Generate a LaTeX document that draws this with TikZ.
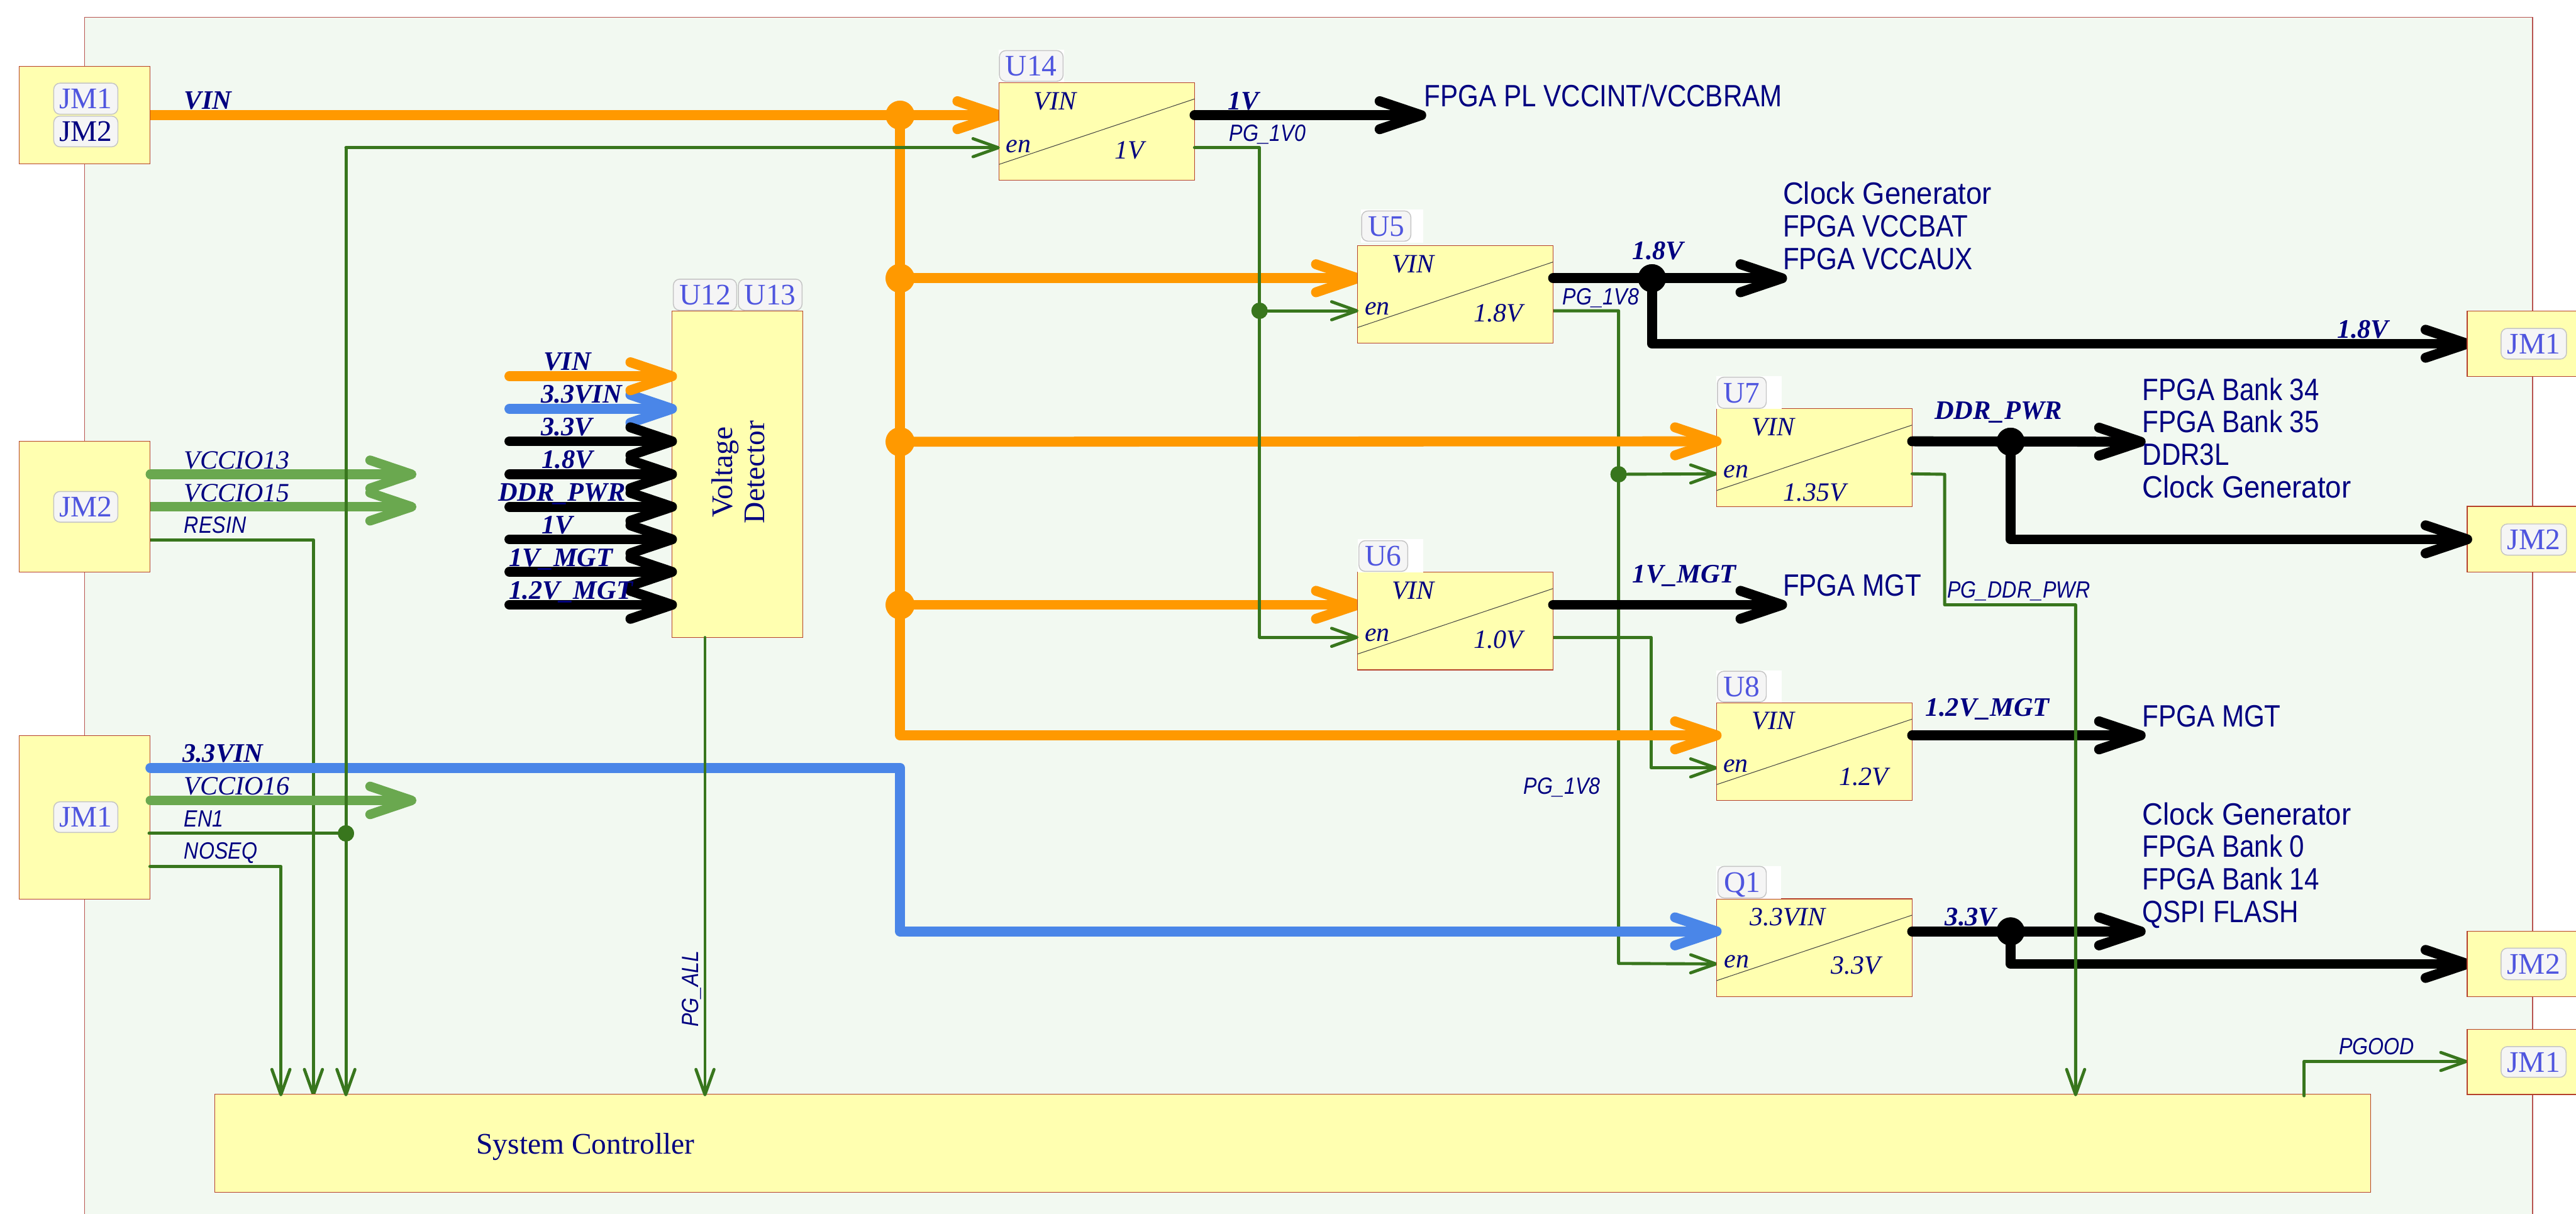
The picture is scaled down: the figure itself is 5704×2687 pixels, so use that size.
\documentclass[tikz,border=0pt]{standalone}
\usepackage{fontspec}
\usetikzlibrary{arrows.meta,calc}
\setmainfont{Liberation Serif}
\newfontfamily\snfont[FakeStretch=0.86]{Liberation Sans}
\newfontfamily\clkfont[FakeStretch=0.93]{Liberation Sans}
\definecolor{panelfill}{HTML}{F2F9F1}
\definecolor{panelline}{HTML}{B85450}
\definecolor{boxfill}{HTML}{FFFFB0}
\definecolor{boxline}{HTML}{B5402A}
\definecolor{tagfill}{HTML}{F5F5F5}
\definecolor{tagline}{HTML}{C4C4C4}
\definecolor{tagtext}{HTML}{4F55DF}
\definecolor{ink}{HTML}{000080}
\definecolor{wOrange}{HTML}{FF9900}
\definecolor{wBlue}{HTML}{4A86E8}
\definecolor{wLight}{HTML}{6AA84F}
\definecolor{wDark}{HTML}{38761D}
\tikzset{
  panel/.style={draw=panelline,fill=panelfill,line width=.02cm},
  blk/.style={draw=boxline,fill=boxfill,line width=.015cm,rectangle,inner sep=0pt,outer sep=0pt,anchor=north west},
  diag/.style={draw=black!75,line width=.014cm},
  tagbox/.style={draw=tagline,fill=tagfill,text=tagtext,rectangle,rounded corners=.14cm,line width=.02cm,inner sep=0pt,outer sep=0pt,anchor=north west,font=\fontsize{18.8}{20}\selectfont,text height=.44cm,text depth=0pt},
  patch/.style={fill=white,rectangle,inner sep=0pt,outer sep=0pt,anchor=north west},
  fat/.style={line width=.22cm,line cap=round,line join=round},
  fattip/.style={-{Straight Barb[round,length=.92cm,width=.62cm]}},
  owire/.style={fat,draw=wOrange},
  bwire/.style={fat,draw=wBlue},
  kwire/.style={fat,draw=black},
  lwire/.style={line width=.21cm,line cap=round,line join=round,draw=wLight},
  dwire/.style={line width=.068cm,line cap=round,line join=round,draw=wDark},
  dtip/.style={-{Straight Barb[round,length=.56cm,width=.40cm]}},
  under/.style={shorten >=-.11cm},
  dotO/.style={circle,inner sep=0pt,outer sep=0pt,minimum size=.64cm,fill=wOrange},
  dotK/.style={circle,inner sep=0pt,outer sep=0pt,minimum size=.62cm,fill=black},
  dotG/.style={circle,inner sep=0pt,outer sep=0pt,minimum size=.36cm,fill=wDark},
  lab/.style={anchor=base west,inner sep=0pt,outer sep=0pt,text=ink},
  ital/.style={lab,font=\fontsize{16.6}{18}\selectfont\itshape},
  bold/.style={lab,font=\fontsize{16.8}{18}\selectfont\bfseries\itshape},
  sig/.style={lab,font=\fontsize{14.8}{16}\selectfont\snfont\itshape},
  dest/.style={lab,font=\fontsize{19.4}{21}\selectfont\snfont},
  destw/.style={lab,font=\fontsize{19.4}{21}\selectfont\clkfont},
  big/.style={inner sep=0pt,outer sep=0pt,text=ink,font=\fontsize{18.8}{20}\selectfont},
}
\begin{document}
\begin{tikzpicture}[x=.01cm,y=-.01cm]
\clip (0,0) rectangle (5704,2687);
\fill[white] (0,0) rectangle (5704,2687);
\draw[panel] (187,38) rectangle (5608,2740);

% fixed points
\coordinate (vinS) at (332,255);
\coordinate (io13S) at (333,1050);
\coordinate (io15S) at (332,1122);
\coordinate (io13T) at (922,1050);
\coordinate (io15T) at (922,1122);
\coordinate (resS) at (332,1195);
\coordinate (v33S) at (333,1700);
\coordinate (v33C) at (1993,1700);
\coordinate (io16S) at (333,1772);
\coordinate (io16T) at (922,1772);
\coordinate (enS) at (330,1845);
\coordinate (enTop) at (766,327);
\coordinate (nosS) at (332,1918);
\coordinate (v33M) at (1993,2062);
\coordinate (scA) at (622,2427);
\coordinate (scB) at (694,2427);
\coordinate (scC) at (766,2427);
\coordinate (scD) at (1561,2427);
\coordinate (scE) at (4596,2427);
\coordinate (scF) at (5102,2426);
\coordinate (pgA) at (5102,2350);
\coordinate (pgT) at (5464,2350);
\coordinate (u14T) at (3158,255);
\coordinate (u5T) at (3957,616);
\coordinate (u6T) at (3957,1339);
\coordinate (u7T) at (4751,978);
\coordinate (u8T) at (4751,1628);
\coordinate (q1T) at (4751,2062);
\coordinate (jrA) at (5474,761);
\coordinate (jrB) at (5474,1194);
\coordinate (jrC) at (5474,2134);
\coordinate (g14) at (2789,327);
\coordinate (g14B) at (2789,1411);
\coordinate (g5) at (3584,688);
\coordinate (g5B) at (3584,2133);
\coordinate (g6) at (3656,1411);
\coordinate (g6B) at (3656,1700);
\coordinate (g7) at (4306,1050);
\coordinate (g7B) at (4306,1339);
\coordinate (g7C) at (4596,1339);

\path (2212,183) coordinate (U14p) (3006,544) coordinate (U5p) (3006,1267) coordinate (U6p)
      (3801,905) coordinate (U7p) (3801,1556) coordinate (U8p) (3801,1990) coordinate (Q1p);
\foreach \nm in {U14,U5,U6,U7,U8,Q1}{
  \coordinate (\nm-in) at ($(\nm p)+(0,72)$);
  \coordinate (\nm-en) at ($(\nm p)+(2,144)$);
  \coordinate (\nm-out) at ($(\nm p)+(433,72)$);
  \coordinate (\nm-pg) at ($(\nm p)+(433,144)$);
  \coordinate (\nm-dA) at ($(\nm p)+(0,181)$);
  \coordinate (\nm-dB) at ($(\nm p)+(433,36)$);
}
\node[dotO] (t1) at (1993,255) {};
\node[dotO] (t2) at (1993,616) {};
\node[dotO] (t3) at (1993,978) {};
\node[dotO] (t4) at (1993,1339) {};
\node[dotG] (jG1) at (2789,688) {};
\node[dotG] (jG2) at (3584,1050) {};
\node[dotG] (jG3) at (766,1845) {};
\node[dotK] (jK1) at (3658,616) {};
\node[dotK] (jK2) at (4452,978) {};
\node[dotK] (jK3) at (4452,2062) {};

% thin wires that run under the thick ones
\draw[dwire,dtip] (resS) -| (scB);
\draw[dwire,dtip] (U5-pg) -- (g5) -- (g5B) -- (Q1-en);
\draw[dwire,dtip] (jG2.center) -- (U7-en);
\draw[dwire,dtip] (U6-pg) -- (g6) -- (g6B) -- (U8-en);

% orange wires ending under a box
\draw[owire] (vinS) -- (t1.center);
\draw[owire,fattip,under] (t1.center) -- (U14-in);
\draw[owire,fattip,under] (t2.center) -- (U5-in);
\draw[owire,fattip,under] (t4.center) -- (U6-in);
\draw[lwire,line cap=butt,fattip] (io15S) -- (io15T);

% left connectors
\node[blk,minimum width=2.89cm,minimum height=2.16cm] (JMa) at (43,147) {};
\node[blk,minimum width=2.89cm,minimum height=2.89cm] (JMb) at (43,977) {};
\node[blk,minimum width=2.89cm,minimum height=3.61cm] (JMc) at (43,1629) {};

% regulators
\foreach \nm in {U14,U5,U6,U7,U8,Q1}{
  \node[blk,minimum width=4.33cm,minimum height=2.16cm] (\nm) at (\nm p) {};
  \draw[diag] (\nm-dA) -- (\nm-dB);
}
% detector and controller
\node[blk,minimum width=2.90cm,minimum height=7.23cm] (VD) at (1488,688) {};
\node[blk,minimum width=47.70cm,minimum height=2.17cm] (SC) at (476,2423) {};

% orange over boxes
\draw[owire] (t1.center) -- (t2.center) -- (t3.center) -- (t4.center);
\draw[owire,fattip,under] (t3.center) -- (U7-in);
\draw[owire,fattip,under] (t4.center) |- (U8-in);
\foreach \d in {t1,t2,t3,t4} \fill[wOrange] (\d) circle (32);

% green over orange
\draw[dwire,dtip] (U14-pg) -- (g14) -- (g14B) -- (U6-en);
\draw[dwire,dtip] (jG1.center) -- (U5-en);

% blue, black
\draw[bwire,fattip,under] (v33S) -- (v33C) -- (v33M) -- (Q1-in);
\draw[kwire,fattip] (U14-out) -- (u14T);
\draw[kwire,fattip] (U5-out) -- (u5T);
\draw[kwire,fattip] (jK1.center) |- (jrA);
\draw[kwire,fattip] (U6-out) -- (u6T);
\draw[kwire,fattip] (U7-out) -- (u7T);
\draw[kwire,fattip] (U8-out) -- (u8T);
\draw[kwire,fattip] (Q1-out) -- (q1T);
\draw[kwire,fattip] (jK3.center) |- (jrC);

% left light-green and thin wires
\draw[lwire,fattip] (io13S) -- (io13T);
\draw[lwire,fattip] (io16S) -- (io16T);
\draw[dwire,dtip] (nosS) -| (scA);
\draw[dwire] (enS) -- (jG3.center);
\draw[dwire,dtip] (enTop) -- (U14-en);
\draw[dwire,dtip] (enTop) -- (scC);
\draw[dwire,dtip] (VD.south -| scD) -- (scD);
\draw[dwire,dtip] (U7-pg) -- (g7) -- (g7B) -- (g7C) -- (scE);
\draw[dwire] (scF) -- (pgA);
\draw[dwire,dtip] (pgA) -- (pgT);

% re-stack dots
\foreach \d in {jG1,jG2,jG3} \fill[wDark] (\d) circle (18);
\foreach \d in {jK1,jK2,jK3} \fill[black] (\d) circle (31);

% right connectors
\node[blk,minimum width=2.60cm,minimum height=1.44cm] (JRa) at (5463,689) {};
\node[blk,minimum width=2.60cm,minimum height=1.46cm] (JRb) at (5463,1121) {};
\node[blk,minimum width=2.60cm,minimum height=1.44cm] (JRc) at (5463,2062) {};
\node[blk,minimum width=2.60cm,minimum height=1.44cm] (JRd) at (5463,2279) {};
\draw[kwire,fattip] (jK2.center) |- (jrB);

% detector inputs
\foreach \i/\y in {1/833,2/905,3/977,4/1050,5/1122,6/1194,7/1266,8/1339}{
  \coordinate (vdS\i) at (1128,\y);
  \coordinate (vdT\i) at (1499,\y);
}
\draw[bwire,fattip] (vdS2) -- (vdT2);
\draw[owire,fattip] (vdS1) -- (vdT1);
\foreach \i in {3,...,8}{\draw[kwire,fattip] (vdS\i) -- (vdT\i);}

% white patches and tags
\foreach \nm/\xx/\yy/\w/\h in {pU14/2211/110/145/73,pU5/3013/464/138/73,pU6/3006/1194/145/73,pU7/3801/833/144/72,pU8/3801/1484/144/72,pQ1/3801/1917/143/73}{
  \node[patch,minimum width=\w*.01cm,minimum height=\h*.01cm] (\nm) at (\xx,\yy) {};
}
\foreach \nm/\xx/\yy/\w/\h/\tx in {
  tA/119/184/142/69/JM1,tC/119/1088/142/68/JM2,tD/119/1775/142/68/JM1,
  tU14/2213/112/141/68/U14,tU5/3015/467/109/67/U5,tU6/3009/1197/108/68/U6,tU7/3803/835/108/69/U7,
  tU8/3803/1486/108/68/U8,tQ1/3804/1918/107/70/Q1,tU12/1491/618/140/69/U12,tU13/1635/618/141/69/U13,
  tRa/5538/727/145/68/JM1,tRb/5538/1160/145/69/JM2,tRc/5538/2099/144/70/JM2,tRd/5538/2317/144/68/JM1}{
  \node[tagbox,minimum width=\w*.01cm,minimum height=\h*.01cm] (\nm) at (\xx,\yy) {\tx};
}
\node[tagbox,text=ink,minimum width=1.42cm,minimum height=.68cm] (tB) at (119,257) {JM2};

% text inside regulators
\node[ital] (a1) at (2289,243) {VIN};
\node[ital] (a2) at (2228,337) {en};
\node[ital] (a3) at (2468,351) {1V};
\node[ital] (b1) at (3082,603) {VIN};
\node[ital] (b2) at (3022,697) {en};
\node[ital] (b3) at (3263,712) {1.8V};
\node[ital] (c1) at (3082,1326) {VIN};
\node[ital] (c2) at (3022,1420) {en};
\node[ital] (c3) at (3263,1435) {1.0V};
\node[ital] (d1) at (3879,965) {VIN};
\node[ital] (d2) at (3817,1058) {en};
\node[ital] (d3) at (3949,1109) {1.35V};
\node[ital] (e1) at (3879,1615) {VIN};
\node[ital] (e2) at (3816,1709) {en};
\node[ital] (e3) at (4072,1739) {1.2V};
\node[ital] (f1) at (3875,2049) {3.3VIN};
\node[ital] (f2) at (3818,2143) {en};
\node[ital] (f3) at (4055,2157) {3.3V};

% signal names, left
\node[bold] (g1) at (408,242) {VIN};
\node[ital] (g2) at (408,1038) {VCCIO13};
\node[ital] (g3) at (408,1110) {VCCIO15};
\node[sig] (g4) at (408,1180) {RESIN};
\node[bold] (g5t) at (404,1687) {3.3VIN};
\node[ital] (g6t) at (408,1760) {VCCIO16};
\node[sig] (g7t) at (408,1830) {EN1};
\node[sig] (g8t) at (408,1902) {NOSEQ};

% signal names at the detector
\node[bold] (h1) at (1204,820) {VIN};
\node[bold] (h2) at (1198,892) {3.3VIN};
\node[bold] (h3) at (1198,965) {3.3V};
\node[bold] (h4) at (1200,1037) {1.8V};
\node[bold] (h5) at (1103,1109) {DDR\_PWR};
\node[bold] (h6) at (1200,1182) {1V};
\node[bold] (h7) at (1127,1254) {1V\_MGT};
\node[bold] (h8) at (1127,1326) {1.2V\_MGT};
\node[big,rotate=90,anchor=base] (vd1) at (1621,1045) {Voltage};
\node[big,rotate=90,anchor=base] (vd2) at (1693,1045) {Detector};
\node[big,anchor=base west] (scl) at (1055,2554) {System Controller};
\node[sig,rotate=90,anchor=base west] (pgall) at (1547,2274) {PG\_ALL};

% signal names, right
\node[bold] (i1) at (2719,243) {1V};
\node[sig] (i2) at (2722,313) {PG\_1V0};
\node[bold] (i3) at (3615,575) {1.8V};
\node[sig] (i4) at (3460,674) {PG\_1V8};
\node[sig] (i5) at (3374,1758) {PG\_1V8};
\node[bold] (i6) at (3615,1290) {1V\_MGT};
\node[bold] (i7) at (4284,928) {DDR\_PWR};
\node[bold] (i8) at (5176,748) {1.8V};
\node[sig] (i9) at (4312,1323) {PG\_DDR\_PWR};
\node[bold] (i10) at (4264,1586) {1.2V\_MGT};
\node[bold] (i11) at (4307,2049) {3.3V};
\node[sig] (i12) at (5179,2335) {PGOOD};

% destinations
\node[dest] (k1) at (3154,236) {FPGA PL VCCINT/VCCBRAM};
\node[destw] (k2) at (3948,452) {Clock Generator};
\node[dest] (k3) at (3948,524) {FPGA VCCBAT};
\node[dest] (k4) at (3948,597) {FPGA VCCAUX};
\node[dest] (k5) at (4744,886) {FPGA Bank 34};
\node[dest] (k6) at (4744,958) {FPGA Bank 35};
\node[dest] (k7) at (4744,1030) {DDR3L};
\node[destw] (k8) at (4744,1102) {Clock Generator};
\node[dest] (k9) at (3948,1320) {FPGA MGT};
\node[dest] (k10) at (4744,1609) {FPGA MGT};
\node[destw] (k11) at (4744,1826) {Clock Generator};
\node[dest] (k12) at (4744,1898) {FPGA Bank 0};
\node[dest] (k13) at (4744,1970) {FPGA Bank 14};
\node[dest] (k14) at (4744,2042) {QSPI FLASH};
\end{tikzpicture}
\end{document}
